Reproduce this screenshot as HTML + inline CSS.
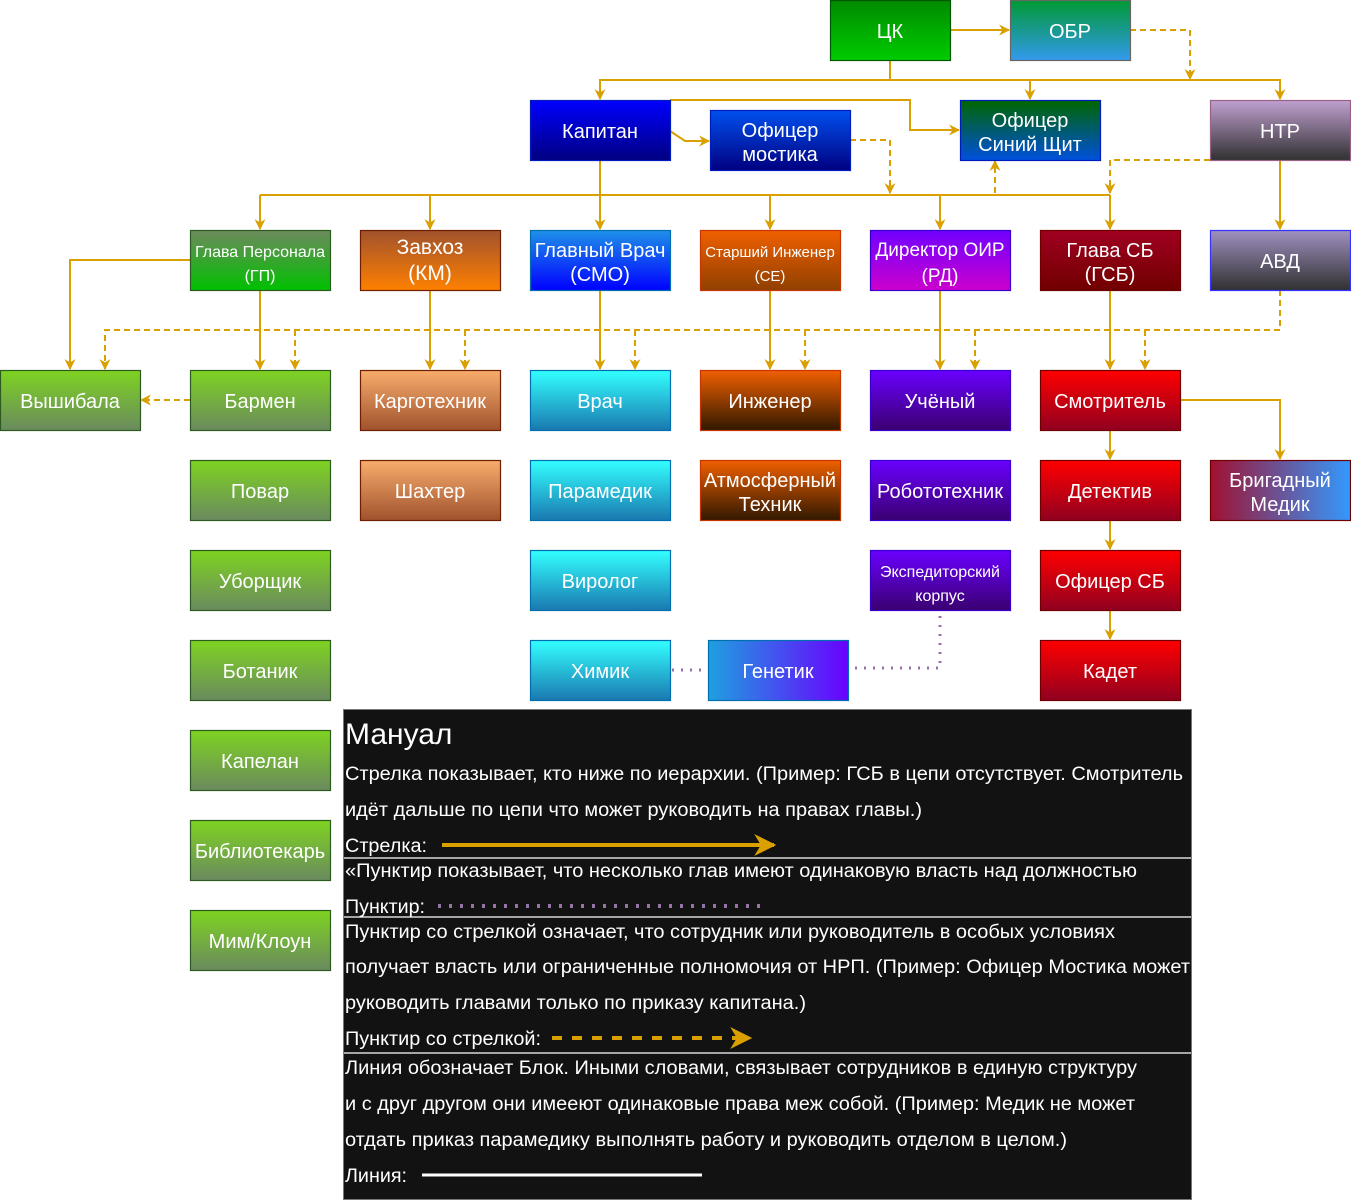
<!DOCTYPE html>
<html><head><meta charset="utf-8"><style>
html,body{margin:0;padding:0;background:#fff;width:1351px;height:1202px;overflow:hidden}
svg{display:block}
text{font-family:"Liberation Sans","DejaVu Sans",sans-serif;fill:#fff}
</style></head><body>
<svg width="1351" height="1202" viewBox="0 0 1351 1202" xmlns="http://www.w3.org/2000/svg">
<defs>
<linearGradient id="gCK" x1="0" y1="0" x2="0" y2="1"><stop offset="0" stop-color="#008a00"/><stop offset="1" stop-color="#00cc00"/></linearGradient>
<linearGradient id="gOBR" x1="0" y1="0" x2="0" y2="1"><stop offset="0" stop-color="#009933"/><stop offset="1" stop-color="#3399ee"/></linearGradient>
<linearGradient id="gKap" x1="0" y1="0" x2="0" y2="1"><stop offset="0" stop-color="#0000ff"/><stop offset="1" stop-color="#000080"/></linearGradient>
<linearGradient id="gOM" x1="0" y1="0" x2="0" y2="1"><stop offset="0" stop-color="#0050ee"/><stop offset="1" stop-color="#000080"/></linearGradient>
<linearGradient id="gOSS" x1="0" y1="0" x2="0" y2="1"><stop offset="0" stop-color="#006600"/><stop offset="1" stop-color="#0050dd"/></linearGradient>
<linearGradient id="gNTR" x1="0" y1="0" x2="0" y2="1"><stop offset="0" stop-color="#c0a0d0"/><stop offset="1" stop-color="#303030"/></linearGradient>
<linearGradient id="gGP" x1="0" y1="0" x2="0" y2="1"><stop offset="0" stop-color="#6d8a5d"/><stop offset="1" stop-color="#00c000"/></linearGradient>
<linearGradient id="gZav" x1="0" y1="0" x2="0" y2="1"><stop offset="0" stop-color="#a0522d"/><stop offset="1" stop-color="#ff8000"/></linearGradient>
<linearGradient id="gGV" x1="0" y1="0" x2="0" y2="1"><stop offset="0" stop-color="#1e90e8"/><stop offset="1" stop-color="#0000ff"/></linearGradient>
<linearGradient id="gSI" x1="0" y1="0" x2="0" y2="1"><stop offset="0" stop-color="#f06000"/><stop offset="1" stop-color="#904000"/></linearGradient>
<linearGradient id="gOIR" x1="0" y1="0" x2="0" y2="1"><stop offset="0" stop-color="#7000ff"/><stop offset="1" stop-color="#cc00cc"/></linearGradient>
<linearGradient id="gGSB" x1="0" y1="0" x2="0" y2="1"><stop offset="0" stop-color="#a00020"/><stop offset="1" stop-color="#700000"/></linearGradient>
<linearGradient id="gAVD" x1="0" y1="0" x2="0" y2="1"><stop offset="0" stop-color="#a090c0"/><stop offset="1" stop-color="#303030"/></linearGradient>
<linearGradient id="gGreen" x1="0" y1="0" x2="0" y2="1"><stop offset="0" stop-color="#7ed321"/><stop offset="1" stop-color="#6a8a5e"/></linearGradient>
<linearGradient id="gCargo" x1="0" y1="0" x2="0" y2="1"><stop offset="0" stop-color="#f8ad6c"/><stop offset="1" stop-color="#a0522d"/></linearGradient>
<linearGradient id="gCyan" x1="0" y1="0" x2="0" y2="1"><stop offset="0" stop-color="#33ffff"/><stop offset="1" stop-color="#1a78b0"/></linearGradient>
<linearGradient id="gEng" x1="0" y1="0" x2="0" y2="1"><stop offset="0" stop-color="#f06000"/><stop offset="1" stop-color="#301800"/></linearGradient>
<linearGradient id="gSci" x1="0" y1="0" x2="0" y2="1"><stop offset="0" stop-color="#6a00ff"/><stop offset="1" stop-color="#3a0070"/></linearGradient>
<linearGradient id="gRed" x1="0" y1="0" x2="0" y2="1"><stop offset="0" stop-color="#ff0000"/><stop offset="1" stop-color="#900020"/></linearGradient>
<linearGradient id="gBrig" x1="0" y1="0" x2="1" y2="0"><stop offset="0" stop-color="#a01030"/><stop offset="1" stop-color="#3399ff"/></linearGradient>
<linearGradient id="gGen" x1="0" y1="0" x2="1" y2="0"><stop offset="0" stop-color="#1ea0e0"/><stop offset="1" stop-color="#6a00ff"/></linearGradient>
<marker id="ar" viewBox="0 0 10 10" refX="9" refY="5" markerWidth="11" markerHeight="11" orient="auto" markerUnits="userSpaceOnUse"><path d="M0,0 L10,5 L0,10 L3,5 z" fill="#d9a000"/></marker>
<marker id="ar2" viewBox="0 0 10 10" refX="9" refY="5" markerWidth="22" markerHeight="22" orient="auto" markerUnits="userSpaceOnUse"><path d="M0,0 L10,5 L0,10 L3,5 z" fill="#d9a000"/></marker>
</defs>

<g fill="none" stroke="#d9a000" stroke-width="2">
<path d="M890,60 V80"/>
<path d="M890,80 H600 V99" marker-end="url(#ar)"/>
<path d="M890,80 H1030 V99" marker-end="url(#ar)"/>
<path d="M1030,80 H1280 V99" marker-end="url(#ar)"/>
<path d="M950,30 H1009" marker-end="url(#ar)"/>
<path d="M670,100 H910 V130 H959" marker-end="url(#ar)"/>
<path d="M670,131 L685,141 H709" marker-end="url(#ar)"/>
<path d="M600,160 V229" marker-end="url(#ar)"/>
<path d="M260,195 H1110"/>
<path d="M260,195 V229" marker-end="url(#ar)"/>
<path d="M430,195 V229" marker-end="url(#ar)"/>
<path d="M770,195 V229" marker-end="url(#ar)"/>
<path d="M940,195 V229" marker-end="url(#ar)"/>
<path d="M1110,195 V229" marker-end="url(#ar)"/>
<path d="M1280,160 V229" marker-end="url(#ar)"/>
<path d="M190,260 H70 V369" marker-end="url(#ar)"/>
<path d="M260,290 V369" marker-end="url(#ar)"/>
<path d="M430,290 V369" marker-end="url(#ar)"/>
<path d="M600,290 V369" marker-end="url(#ar)"/>
<path d="M770,290 V369" marker-end="url(#ar)"/>
<path d="M940,290 V369" marker-end="url(#ar)"/>
<path d="M1110,290 V369" marker-end="url(#ar)"/>
<path d="M1180,400 H1280 V459" marker-end="url(#ar)"/>
<path d="M1110,430 V459" marker-end="url(#ar)"/>
<path d="M1110,520 V549" marker-end="url(#ar)"/>
<path d="M1110,610 V639" marker-end="url(#ar)"/>
</g>
<g fill="none" stroke="#d9a000" stroke-width="2" stroke-dasharray="6,4">
<path d="M1130,30 H1190 V79" marker-end="url(#ar)"/>
<path d="M850,140 H890 V193" marker-end="url(#ar)"/>
<path d="M995,193 V161" marker-end="url(#ar)"/>
<path d="M1210,160 H1110 V193" marker-end="url(#ar)"/>
<path d="M1280,290 V330 H105 V369" marker-end="url(#ar)"/>
<path d="M295,330 V369" marker-end="url(#ar)"/>
<path d="M465,330 V369" marker-end="url(#ar)"/>
<path d="M635,330 V369" marker-end="url(#ar)"/>
<path d="M805,330 V369" marker-end="url(#ar)"/>
<path d="M975,330 V369" marker-end="url(#ar)"/>
<path d="M1145,330 V369" marker-end="url(#ar)"/>
<path d="M190,400 H141" marker-end="url(#ar)"/>
</g>
<g fill="none" stroke="#9673a6" stroke-width="3" stroke-dasharray="2,7">
<path d="M940,616 V668 H850"/>
<path d="M672,670 H706"/>
</g>

<g stroke-width="1.2">
<rect x="830.5" y="0.5" width="120" height="60" fill="url(#gCK)" stroke="#005700"/>
<rect x="1010.5" y="0.5" width="120" height="60" fill="url(#gOBR)" stroke="#666"/>
<rect x="530.5" y="100.5" width="140" height="60" fill="url(#gKap)" stroke="#001dbc"/>
<rect x="710.5" y="110.5" width="140" height="60" fill="url(#gOM)" stroke="#001dbc"/>
<rect x="960.5" y="100.5" width="140" height="60" fill="url(#gOSS)" stroke="#001dbc"/>
<rect x="1210.5" y="100.5" width="140" height="60" fill="url(#gNTR)" stroke="#996185"/>
<rect x="190.5" y="230.5" width="140" height="60" fill="url(#gGP)" stroke="#2d5a1e"/>
<rect x="360.5" y="230.5" width="140" height="60" fill="url(#gZav)" stroke="#6d1f00"/>
<rect x="530.5" y="230.5" width="140" height="60" fill="url(#gGV)" stroke="#006eaf"/>
<rect x="700.5" y="230.5" width="140" height="60" fill="url(#gSI)" stroke="#c73500"/>
<rect x="870.5" y="230.5" width="140" height="60" fill="url(#gOIR)" stroke="#3700cc"/>
<rect x="1040.5" y="230.5" width="140" height="60" fill="url(#gGSB)" stroke="#6f0000"/>
<rect x="1210.5" y="230.5" width="140" height="60" fill="url(#gAVD)" stroke="#3333ff"/>
<rect x="0.5" y="370.5" width="140" height="60" fill="url(#gGreen)" stroke="#2d5a1e"/>
<rect x="190.5" y="370.5" width="140" height="60" fill="url(#gGreen)" stroke="#2d5a1e"/>
<rect x="360.5" y="370.5" width="140" height="60" fill="url(#gCargo)" stroke="#6d1f00"/>
<rect x="530.5" y="370.5" width="140" height="60" fill="url(#gCyan)" stroke="#006eaf"/>
<rect x="700.5" y="370.5" width="140" height="60" fill="url(#gEng)" stroke="#c73500"/>
<rect x="870.5" y="370.5" width="140" height="60" fill="url(#gSci)" stroke="#3700cc"/>
<rect x="1040.5" y="370.5" width="140" height="60" fill="url(#gRed)" stroke="#6f0000"/>
<rect x="190.5" y="460.5" width="140" height="60" fill="url(#gGreen)" stroke="#2d5a1e"/>
<rect x="360.5" y="460.5" width="140" height="60" fill="url(#gCargo)" stroke="#6d1f00"/>
<rect x="530.5" y="460.5" width="140" height="60" fill="url(#gCyan)" stroke="#006eaf"/>
<rect x="700.5" y="460.5" width="140" height="60" fill="url(#gEng)" stroke="#c73500"/>
<rect x="870.5" y="460.5" width="140" height="60" fill="url(#gSci)" stroke="#3700cc"/>
<rect x="1040.5" y="460.5" width="140" height="60" fill="url(#gRed)" stroke="#6f0000"/>
<rect x="1210.5" y="460.5" width="140" height="60" fill="url(#gBrig)" stroke="#6f0000"/>
<rect x="190.5" y="550.5" width="140" height="60" fill="url(#gGreen)" stroke="#2d5a1e"/>
<rect x="530.5" y="550.5" width="140" height="60" fill="url(#gCyan)" stroke="#006eaf"/>
<rect x="870.5" y="550.5" width="140" height="60" fill="url(#gSci)" stroke="#3700cc"/>
<rect x="1040.5" y="550.5" width="140" height="60" fill="url(#gRed)" stroke="#6f0000"/>
<rect x="190.5" y="640.5" width="140" height="60" fill="url(#gGreen)" stroke="#2d5a1e"/>
<rect x="530.5" y="640.5" width="140" height="60" fill="url(#gCyan)" stroke="#006eaf"/>
<rect x="708.5" y="640.5" width="140" height="60" fill="url(#gGen)" stroke="#006eaf"/>
<rect x="1040.5" y="640.5" width="140" height="60" fill="url(#gRed)" stroke="#6f0000"/>
<rect x="190.5" y="730.5" width="140" height="60" fill="url(#gGreen)" stroke="#2d5a1e"/>
<rect x="190.5" y="820.5" width="140" height="60" fill="url(#gGreen)" stroke="#2d5a1e"/>
<rect x="190.5" y="910.5" width="140" height="60" fill="url(#gGreen)" stroke="#2d5a1e"/>
</g>

<g font-size="20" text-anchor="middle">
<text x="890" y="38">ЦК</text>
<text x="1070" y="38">ОБР</text>
<text x="600" y="138">Капитан</text>
<text x="780" y="137">Офицер</text><text x="780" y="161">мостика</text>
<text x="1030" y="127">Офицер</text><text x="1030" y="151">Синий Щит</text>
<text x="1280" y="138">НТР</text>
<text x="260" y="257" font-size="16">Глава Персонала</text><text x="260" y="281" font-size="16">(ГП)</text>
<text x="430" y="254" font-size="21">Завхоз</text><text x="430" y="280" font-size="21">(КМ)</text>
<text x="600" y="257">Главный Врач</text><text x="600" y="281">(СМО)</text>
<text x="770" y="257" font-size="15">Старший Инженер</text><text x="770" y="281" font-size="15">(СЕ)</text>
<text x="940" y="256" font-size="19">Директор ОИР</text><text x="940" y="282" font-size="19">(РД)</text>
<text x="1110" y="257">Глава СБ</text><text x="1110" y="281">(ГСБ)</text>
<text x="1280" y="268">АВД</text>
<text x="70" y="408">Вышибала</text>
<text x="260" y="408">Бармен</text>
<text x="430" y="408">Карготехник</text>
<text x="600" y="408">Врач</text>
<text x="770" y="408">Инженер</text>
<text x="940" y="408">Учёный</text>
<text x="1110" y="408">Смотритель</text>
<text x="260" y="498">Повар</text>
<text x="430" y="498">Шахтер</text>
<text x="600" y="498">Парамедик</text>
<text x="770" y="487">Атмосферный</text><text x="770" y="511">Техник</text>
<text x="940" y="498">Робототехник</text>
<text x="1110" y="498">Детектив</text>
<text x="1280" y="487">Бригадный</text><text x="1280" y="511">Медик</text>
<text x="260" y="588">Уборщик</text>
<text x="600" y="588">Виролог</text>
<text x="940" y="577" font-size="16">Экспедиторский</text><text x="940" y="601" font-size="16">корпус</text>
<text x="1110" y="588">Офицер СБ</text>
<text x="260" y="678">Ботаник</text>
<text x="600" y="678">Химик</text>
<text x="778" y="678">Генетик</text>
<text x="1110" y="678">Кадет</text>
<text x="260" y="768">Капелан</text>
<text x="260" y="858">Библиотекарь</text>
<text x="260" y="948">Мим/Клоун</text>
</g>

<rect x="343.5" y="709.5" width="848" height="490" fill="#121212" stroke="#777"/>
<g stroke="#fff" stroke-width="1.2">
<line x1="344" y1="858" x2="1191" y2="858"/>
<line x1="344" y1="917" x2="1191" y2="917"/>
<line x1="344" y1="1053" x2="1191" y2="1053"/>
</g>
<g font-size="19">
<text x="345" y="744" font-size="30">Мануал</text>
<text x="345" y="780" textLength="838" lengthAdjust="spacingAndGlyphs">Стрелка показывает, кто ниже по иерархии. (Пример: ГСБ в цепи отсутствует. Смотритель</text>
<text x="345" y="816" textLength="577" lengthAdjust="spacingAndGlyphs">идёт дальше по цепи что может руководить на правах главы.)</text>
<text x="345" y="852" textLength="82" lengthAdjust="spacingAndGlyphs">Стрелка:</text>
<text x="345" y="877" textLength="792" lengthAdjust="spacingAndGlyphs">«Пунктир показывает, что несколько глав имеют одинаковую власть над должностью</text>
<text x="345" y="913" textLength="80" lengthAdjust="spacingAndGlyphs">Пунктир:</text>
<text x="345" y="938" textLength="770" lengthAdjust="spacingAndGlyphs">Пунктир со стрелкой означает, что сотрудник или руководитель в особых условиях</text>
<text x="345" y="973" textLength="845" lengthAdjust="spacingAndGlyphs">получает власть или ограниченные полномочия от НРП. (Пример: Офицер Мостика может</text>
<text x="345" y="1009" textLength="461" lengthAdjust="spacingAndGlyphs">руководить главами только по приказу капитана.)</text>
<text x="345" y="1045" textLength="196" lengthAdjust="spacingAndGlyphs">Пунктир со стрелкой:</text>
<text x="345" y="1074" textLength="792" lengthAdjust="spacingAndGlyphs">Линия обозначает Блок. Иными словами, связывает сотрудников в единую структуру</text>
<text x="345" y="1110" textLength="790" lengthAdjust="spacingAndGlyphs">и с друг другом они имееют одинаковые права меж собой. (Пример: Медик не может</text>
<text x="345" y="1146" textLength="722" lengthAdjust="spacingAndGlyphs">отдать приказ парамедику выполнять работу и руководить отделом в целом.)</text>
<text x="345" y="1182" textLength="62" lengthAdjust="spacingAndGlyphs">Линия:</text>
</g>
<path d="M442,845 H774" stroke="#d9a000" stroke-width="4" fill="none" marker-end="url(#ar2)"/>
<path d="M438,906 H768" stroke="#9673a6" stroke-width="4" stroke-dasharray="3,8" fill="none"/>
<path d="M552,1038 H750" stroke="#d9a000" stroke-width="4" stroke-dasharray="10,10" fill="none" marker-end="url(#ar2)"/>
<path d="M422,1175 H702" stroke="#fff" stroke-width="3" fill="none"/>
</svg>
</body></html>
